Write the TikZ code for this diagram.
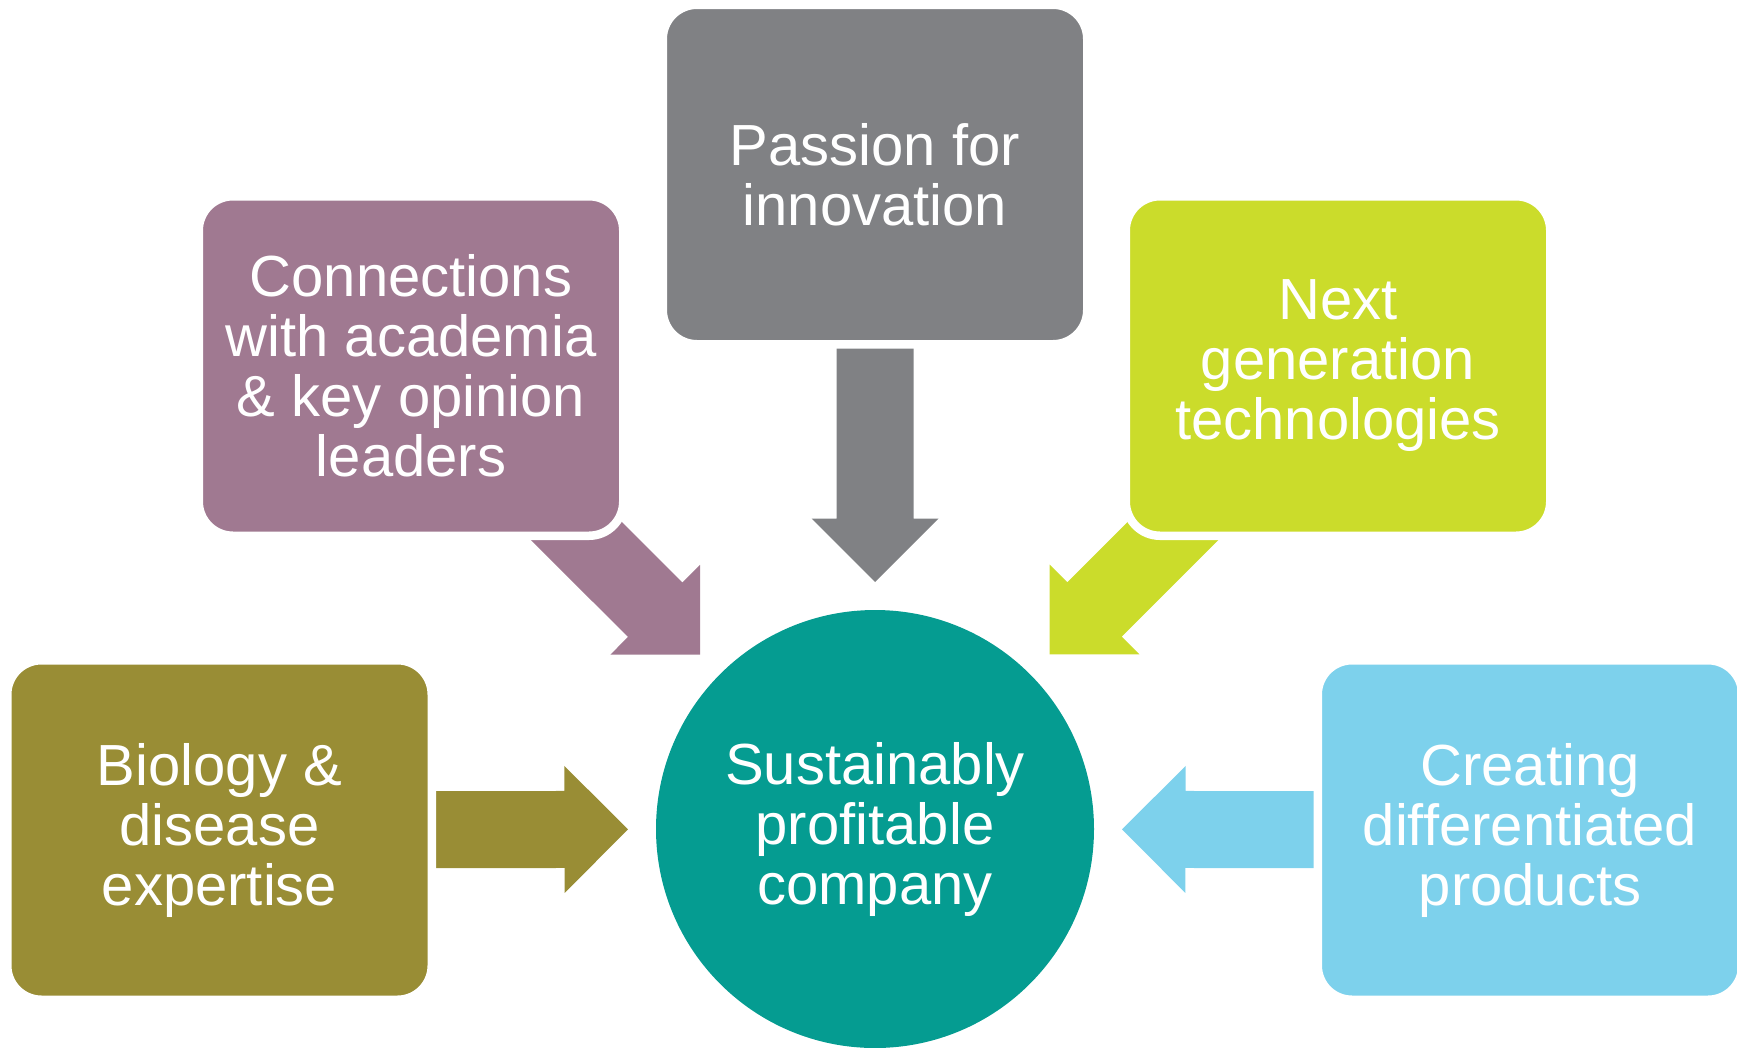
\documentclass[tikz,border=0pt]{standalone}
\usepackage{fontspec}
\setmainfont{Liberation Sans}
\usetikzlibrary{calc,backgrounds}
\definecolor{cgray}{HTML}{808184}
\definecolor{cpurple}{HTML}{A07991}
\definecolor{cgreen}{HTML}{CBDC2B}
\definecolor{colive}{HTML}{998D35}
\definecolor{cblue}{HTML}{7DD1EC}
\definecolor{cteal}{HTML}{059C91}
\tikzset{
  box/.style={rectangle, rounded corners=34.25pt, minimum width=424.5pt, minimum height=339.5pt,
    inner sep=0pt, outer sep=0pt, draw=white, line width=8.5pt, align=center, text=white,
    font=\fontsize{58}{60}\selectfont},
  hubstyle/.style={circle, minimum size=438pt, inner sep=0pt, outer sep=0pt, fill=cteal,
    text=white, align=center, font=\fontsize{58}{60}\selectfont},
}
\newcommand{\fatarrow}[3]{%
  \coordinate (tip-#1) at ($(#2.center)!247pt!(#1.center)$);
  \coordinate (hb-#1) at ($(tip-#1)!63.5pt!(#1.center)$);
  \fill[#3] ($(#1.center)!38.5pt!90:(tip-#1)$) -- ($(hb-#1)!38.5pt!90:(tip-#1)$)
    -- ($(hb-#1)!63.5pt!90:(tip-#1)$) -- (tip-#1) -- ($(hb-#1)!63.5pt!-90:(tip-#1)$)
    -- ($(hb-#1)!38.5pt!-90:(tip-#1)$) -- ($(#1.center)!38.5pt!-90:(tip-#1)$) -- cycle;
}
\begin{document}
\begin{tikzpicture}[x=1pt,y=-1pt]
\useasboundingbox (0,0) rectangle (1737,1047);
\node[hubstyle] (hub) at (875,829) {Sustainably\\profitable\\company};
\node[box, fill=cgray] (pass) at (875,174.5) {Passion for\\innovation};
\node[box, fill=cpurple] (conn) at (411,366) {Connections\\with academia\\\& key opinion\\leaders};
\node[box, fill=cgreen] (next) at (1338,366) {Next\\generation\\technologies};
\node[box, fill=colive] (bio) at (219.5,830) {Biology \&\\disease\\expertise};
\node[box, fill=cblue] (create) at (1530,830) {Creating\\differentiated\\products};
\begin{scope}[on background layer]
\fatarrow{pass}{hub}{cgray}
\fatarrow{conn}{hub}{cpurple}
\fatarrow{next}{hub}{cgreen}
\fatarrow{bio}{hub}{colive}
\fatarrow{create}{hub}{cblue}
\end{scope}
\end{tikzpicture}
\end{document}
